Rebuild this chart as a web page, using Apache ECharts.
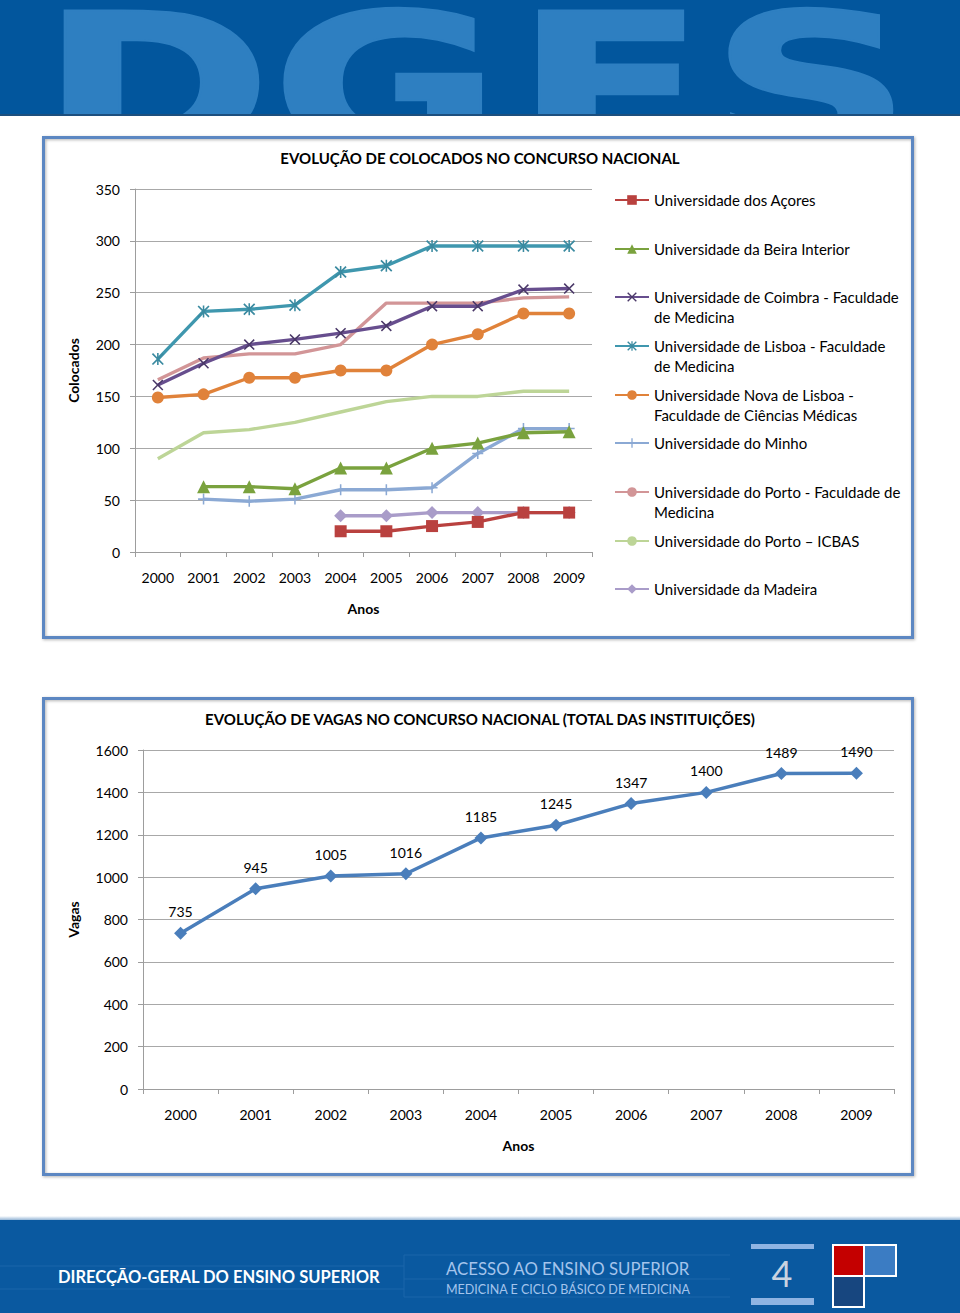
<!DOCTYPE html>
<html><head><meta charset="utf-8">
<script src="https://cdn.jsdelivr.net/npm/echarts@6/dist/echarts.min.js"></script>
<style>html,body{margin:0;padding:0;background:#fff}#c{width:960px;height:1313px}</style>
</head><body><div id="c"></div>
<script>
// ---- data ----
const years = ['2000','2001','2002','2003','2004','2005','2006','2007','2008','2009'];
const acores  = [null,null,null,null,20,20,25,29,38,38];
const beira   = [null,63,63,61,81,81,100,105,115,116];
const coimbra = [161,182,200,205,211,218,237,237,253,254];
const lisboa  = [186,232,234,238,270,276,295,295,295,295];
const nova    = [149,152,168,168,175,175,200,210,230,230];
const minho   = [null,51,49,51,60,60,62,95,119,119];
const portoFM = [166,187,191,191,200,240,240,240,245,246];
const icbas   = [90,115,118,125,135,145,150,150,155,155];
const madeira = [null,null,null,null,35,35,38,38,38,38];
const vagas   = [735,945,1005,1016,1185,1245,1347,1400,1489,1490];

const seriesNames = [
  'Universidade dos Açores',
  'Universidade da Beira Interior',
  'Universidade de Coimbra - Faculdade de Medicina',
  'Universidade de Lisboa - Faculdade de Medicina',
  'Universidade Nova de Lisboa - Faculdade de Ciências Médicas',
  'Universidade do Minho',
  'Universidade do Porto - Faculdade de Medicina',
  'Universidade do Porto – ICBAS',
  'Universidade da Madeira'
];
const legendLabels = [
  'Universidade dos Açores',
  'Universidade da Beira Interior',
  'Universidade de Coimbra - Faculdade\nde Medicina',
  'Universidade de Lisboa - Faculdade\nde Medicina',
  'Universidade Nova de Lisboa -\nFaculdade de Ciências Médicas',
  'Universidade do Minho',
  'Universidade do Porto - Faculdade de\nMedicina',
  'Universidade do Porto – ICBAS',
  'Universidade da Madeira'
];

// ---- styles ----
const FONT = 'Lato, "Open Sans", sans-serif';
const xSym = 'path://M0,1L1,0L5,4L9,0L10,1L6,5L10,9L9,10L5,6L1,10L0,9L4,5Z';
const astSym = 'path://M0,1L1,0L5,4L9,0L10,1L6,5L10,9L9,10L5,6L1,10L0,9L4,5Z M4.35,0H5.65V10H4.35Z';
const plusSym = 'path://M4.3,0H5.7V4.3H10V5.7H5.7V10H4.3V5.7H0V4.3H4.3Z';
const styles = [
  {color:'#b9413f', symbol:'rect', size:12},
  {color:'#7aa23e', symbol:'triangle', size:13},
  {color:'#674e8e', symbol:xSym, size:11, mark:'#4a3868'},
  {color:'#3f97ae', symbol:astSym, size:12, mark:'#3a8aa0'},
  {color:'#e0823a', symbol:'circle', size:12},
  {color:'#8ba9d4', symbol:plusSym, size:11},
  {color:'#d29597', symbol:'none', size:0},
  {color:'#bdd597', symbol:'none', size:0},
  {color:'#a99cc9', symbol:'diamond', size:13}
];
const dataSets = [acores, beira, coimbra, lisboa, nova, minho, portoFM, icbas, madeira];
const legendCenters = [200,249,297,346,395,443,492,541,589];

const series1 = dataSets.map((d, i) => ({
  name: seriesNames[i],
  type: 'line',
  xAxisIndex: 0, yAxisIndex: 0,
  data: d,
  symbol: styles[i].symbol,
  symbolSize: styles[i].size,
  showSymbol: styles[i].symbol !== 'none',
  lineStyle: {color: styles[i].color, width: 3.4},
  itemStyle: {color: styles[i].mark || styles[i].color, opacity: 1},
  emphasis: {disabled: true},
  z: 10 - i
}));

const legends = seriesNames.map((n, i) => {
  const two = legendLabels[i].indexOf('\n') >= 0;
  return {
    data: [n],
    left: 614,
    top: legendCenters[i] - (two ? 29.25 : 9.75),
    padding: 0,
    itemWidth: 34,
    itemHeight: 12,
    selectedMode: false,
    formatter: () => (two ? '\n' : '') + legendLabels[i],
    textStyle: {fontFamily: FONT, fontSize: 15, color: '#000', lineHeight: 19.5}
  };
});

const axisGray = '#9d9d9d';
function yAx(grid, max, interval, name, gap) {
  return {
    type: 'value', gridIndex: grid, min: 0, max: max, interval: interval,
    name: name, nameLocation: 'middle', nameGap: gap, nameRotate: 90,
    nameTextStyle: {fontFamily: FONT, fontSize: 14, fontWeight: 'bold', color: '#000'},
    axisLine: {show: true, lineStyle: {color: axisGray, width: 1}},
    axisTick: {show: true, length: 5, lineStyle: {color: axisGray}},
    axisLabel: {margin: 15, fontFamily: FONT, fontSize: 14, color: '#000', formatter: v => String(v)},
    splitLine: {show: true, lineStyle: {color: '#a8a8a8', width: 1}}
  };
}
function xAx(grid) {
  return {
    type: 'category', gridIndex: grid, data: years, boundaryGap: true,
    name: 'Anos', nameLocation: 'middle', nameGap: 49,
    nameTextStyle: {fontFamily: FONT, fontSize: 14, fontWeight: 'bold', color: '#000'},
    axisLine: {show: true, lineStyle: {color: axisGray, width: 1}},
    axisTick: {show: true, length: 5, lineStyle: {color: axisGray}},
    axisLabel: {margin: 18, fontFamily: FONT, fontSize: 14, color: '#000', interval: 0},
    splitLine: {show: false}
  };
}

const letters = [
  {t:'D', x:156}, {t:'G', x:386}, {t:'F', x:610}, {t:'S', x:811}
];
const graphics = [
  {type:'rect', z:0, shape:{x:0, y:0, width:960, height:115}, style:{fill:'#02569d'}},
  ...letters.map(l => ({
    type:'text', z:1, x:l.x, y:86, scaleX:1.42,
    style:{text:l.t, x:0, y:0, fill:'#2e7fc1', stroke:'#2e7fc1', lineWidth:4,
      fontFamily:'"DejaVu Sans", sans-serif', fontWeight:'bold', fontSize:195,
      textAlign:'center', textVerticalAlign:'middle'}
  })),
  {type:'rect', z:2, shape:{x:0, y:115, width:960, height:60}, style:{fill:'#fff'}},
  {type:'rect', z:2, shape:{x:0, y:114, width:960, height:2}, style:{fill:'#1d4f7e'}},
  // chart frames
  {type:'rect', z:3, shape:{x:43.5, y:137.5, width:869, height:500}, style:{fill:'none', stroke:'#5b87c2', lineWidth:3, shadowBlur:3, shadowColor:'rgba(0,0,0,0.3)', shadowOffsetX:1, shadowOffsetY:1}},
  {type:'rect', z:3, shape:{x:43.5, y:698.5, width:869, height:476}, style:{fill:'none', stroke:'#5b87c2', lineWidth:3, shadowBlur:3, shadowColor:'rgba(0,0,0,0.3)', shadowOffsetX:1, shadowOffsetY:1}},
  // footer
  {type:'rect', z:0, shape:{x:0, y:1216, width:960, height:5}, style:{fill:{type:'linear', x:0, y:0, x2:0, y2:1, colorStops:[{offset:0, color:'#ffffff'}, {offset:1, color:'#7aa3cc'}]}}},
  {type:'rect', z:0, shape:{x:0, y:1220, width:960, height:93}, style:{fill:'#0a59a0'}},
  {type:'line', z:1, shape:{x1:0, y1:1266, x2:404, y2:1266}, style:{stroke:'#1a66aa', lineWidth:1}},
  {type:'line', z:1, shape:{x1:0, y1:1289, x2:404, y2:1289}, style:{stroke:'#1a66aa', lineWidth:1}},
  {type:'line', z:1, shape:{x1:404, y1:1255, x2:404, y2:1297}, style:{stroke:'#1a66aa', lineWidth:1}},
  {type:'line', z:1, shape:{x1:404, y1:1255, x2:730, y2:1255}, style:{stroke:'#1a66aa', lineWidth:1}},
  {type:'line', z:1, shape:{x1:404, y1:1279, x2:730, y2:1279}, style:{stroke:'#1a66aa', lineWidth:1}},
  {type:'line', z:1, shape:{x1:404, y1:1297, x2:730, y2:1297}, style:{stroke:'#1a66aa', lineWidth:1}},
  {type:'text', z:2, style:{text:'DIRECÇÃO-GERAL DO ENSINO SUPERIOR', x:58, y:1277, fill:'#ffffff',
    fontFamily:'Lato, sans-serif', fontWeight:'bold', fontSize:16.5, textVerticalAlign:'middle'}},
  {type:'text', z:2, style:{text:'ACESSO AO ENSINO SUPERIOR', x:446, y:1268, fill:'#a4c4ec',
    fontFamily:'Lato, sans-serif', fontSize:16.8, textVerticalAlign:'middle'}},
  {type:'text', z:2, style:{text:'MEDICINA E CICLO BÁSICO DE MEDICINA', x:446, y:1289, fill:'#a4c4ec',
    fontFamily:'Lato, sans-serif', fontSize:12.5, textVerticalAlign:'middle'}},
  {type:'rect', z:2, shape:{x:751, y:1244, width:63, height:5}, style:{fill:'#8fb4e3'}},
  {type:'rect', z:2, shape:{x:751, y:1298, width:63, height:7}, style:{fill:'#8fb4e3'}},
  {type:'text', z:2, style:{text:'4', x:782, y:1273, fill:'#c9d3e0',
    fontFamily:'Lato, sans-serif', fontSize:36, textAlign:'center', textVerticalAlign:'middle'}},
  {type:'rect', z:2, shape:{x:833, y:1245, width:31, height:31}, style:{fill:'#c40000', stroke:'#ffffff', lineWidth:2}},
  {type:'rect', z:2, shape:{x:864, y:1245, width:32, height:31}, style:{fill:'#3b7cc3', stroke:'#ffffff', lineWidth:2}},
  {type:'rect', z:2, shape:{x:833, y:1276, width:31, height:31}, style:{fill:'#17467f', stroke:'#ffffff', lineWidth:2}}
];

const chart = echarts.init(document.getElementById('c'), null, {renderer: 'svg'});
chart.setOption({
  animation: false,
  backgroundColor: '#ffffff',
  title: [
    {text: 'EVOLUÇÃO DE COLOCADOS NO CONCURSO NACIONAL', left: 'center', top: 150, padding: 0,
     textStyle: {fontFamily: FONT, fontSize: 15, fontWeight: 'bold', color: '#000'}},
    {text: 'EVOLUÇÃO DE VAGAS NO CONCURSO NACIONAL (TOTAL DAS INSTITUIÇÕES)', left: 'center', top: 711, padding: 0,
     textStyle: {fontFamily: FONT, fontSize: 15, fontWeight: 'bold', color: '#000'}}
  ],
  legend: legends,
  grid: [
    {left: 135, top: 189, width: 457, height: 363},
    {left: 143, top: 750, width: 751, height: 339}
  ],
  xAxis: [xAx(0), xAx(1)],
  yAxis: [yAx(0, 350, 50, 'Colocados', 55), yAx(1, 1600, 200, 'Vagas', 63)],
  series: [
    ...series1,
    {
      name: 'Vagas', type: 'line', xAxisIndex: 1, yAxisIndex: 1, data: vagas,
      symbol: 'diamond', symbolSize: 13,
      lineStyle: {color: '#4a7ebb', width: 3.5},
      itemStyle: {color: '#4a7ebb'},
      label: {show: true, position: 'top', distance: 8, fontFamily: FONT, fontSize: 14, color: '#000'},
      emphasis: {disabled: true}
    }
  ],
  graphic: graphics
});
</script></body></html>
